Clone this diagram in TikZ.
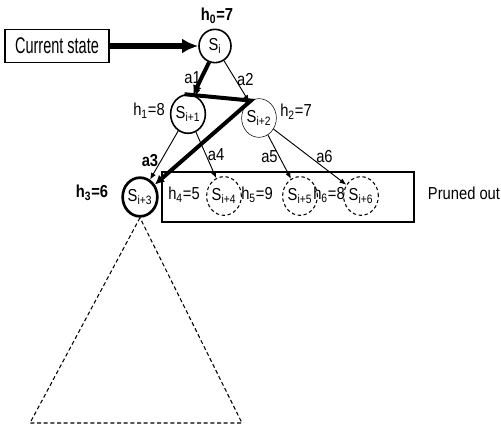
\documentclass[tikz,border=0pt]{standalone}
\usepackage{fontspec}
\setmainfont{Liberation Sans}[FakeStretch=0.85]
\newfontfamily\narrowsans{Liberation Sans}[FakeStretch=0.64]
\usetikzlibrary{arrows.meta,shapes.geometric}
\begin{document}
\begin{tikzpicture}[x=0.75pt,y=-0.75pt]
\tikzset{state/.style={ellipse,draw,minimum width=26pt,minimum height=29pt,inner sep=0pt,font=\fontsize{13}{15}\selectfont},
         pruned/.style={state,dashed,thick,dash pattern=on 2.5pt off 2pt},
         lbl/.style={font=\fontsize{13}{15}\selectfont,inner sep=1pt},
         boldlbl/.style={lbl,font=\fontsize{13}{15}\selectfont\bfseries},
         move/.style={-{Latex[length=5pt,width=4pt]},line width=0.7pt},
         trail/.style={line width=3pt}}
\useasboundingbox (0,0) rectangle (501,428);
\node[draw,line width=1.2pt,minimum width=78pt,minimum height=25pt,font=\fontsize{17}{19}\narrowsans] (cur) at (57,46) {Current state};
\node[state,very thick,minimum width=24pt,minimum height=25pt] (S0) at (215,46) {S\textsubscript{i}};
\node[state,very thick] (S1) at (188,114) {S\textsubscript{i+1}};
\node[state] (S2) at (259,118) {S\textsubscript{i+2}};
\node[state,line width=2pt] (S3) at (140,197) {S\textsubscript{i+3}};
\node[pruned] (S4) at (224,196) {S\textsubscript{i+4}};
\node[pruned] (S5) at (300,196) {S\textsubscript{i+5}};
\node[pruned] (S6) at (361,196) {S\textsubscript{i+6}};
\draw[thick] (162,172) rectangle (414,222);
\node[lbl] (prun) at (464,193) {Pruned out};
% heuristic values
\node[boldlbl] (h0) at (217,16) {h\textsubscript{0}=7};
\node[lbl] (h1) at (149,111) {h\textsubscript{1}=8};
\node[lbl] (h2) at (296,112) {h\textsubscript{2}=7};
\node[boldlbl] (h3) at (92,193) {h\textsubscript{3}=6};
\node[lbl] (h4) at (184,195) {h\textsubscript{4}=5};
\node[lbl] (h5) at (257,195) {h\textsubscript{5}=9};
\node[lbl] (h6) at (329,195) {h\textsubscript{6}=8};
% actions
\draw[-{Latex[length=12pt,width=11pt]},line width=4pt] (cur) -- (S0);
\draw[move] (S0) -- (S1) node[lbl,pos=0.45,left] {a1};
\draw[move] (S0) -- (S2) node[lbl,pos=0.45,right] {a2};
\draw[move] (S1) -- (S3) node[boldlbl,pos=0.6,left=1pt] {a3};
\draw[move] (S1) -- (S4) node[lbl,pos=0.5,right] {a4};
\draw[move] (S2) -- (S5) node[lbl,pos=0.5,left] {a5};
\draw[move] (S2) -- (S6) node[lbl,pos=0.7,above=3pt] {a6};
% search trail
\draw[trail,-{Latex[length=7pt,width=7pt]}] (S0.250) -- (S1.75);
\draw[trail,-{Latex[length=7pt,width=7pt]}] (S1.100) -- (S2.115) -- (S3.40);
% unexplored subtree
\coordinate (bl) at (30,423);
\coordinate (br) at (242,423);
\draw[thick,dash pattern=on 3pt off 2pt] (S3.south) -- (bl) -- (br) -- (S3.south);
\end{tikzpicture}
\end{document}
